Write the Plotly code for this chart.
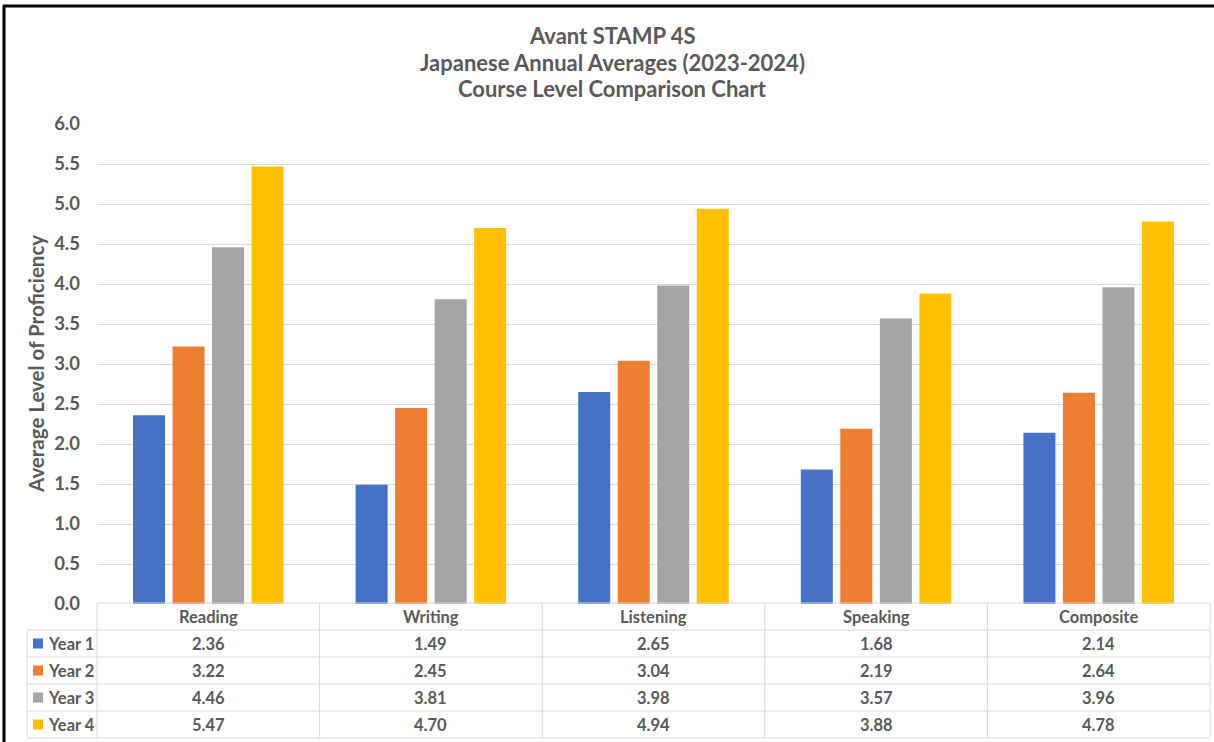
import plotly.graph_objects as go

categories = ["Reading", "Writing", "Listening", "Speaking", "Composite"]
series_names = ["Year 1", "Year 2", "Year 3", "Year 4"]
year1 = [2.36, 1.49, 2.65, 1.68, 2.14]
year2 = [3.22, 2.45, 3.04, 2.19, 2.64]
year3 = [4.46, 3.81, 3.98, 3.57, 3.96]
year4 = [5.47, 4.70, 4.94, 3.88, 4.78]
colors = ["#4472C4", "#ED7D31", "#A5A5A5", "#FFC000"]
title_lines = ["Avant STAMP 4S", "Japanese Annual Averages (2023-2024)", "Course Level Comparison Chart"]
y_title = "Average Level of Proficiency"
tick_vals = [0, 0.5, 1, 1.5, 2, 2.5, 3, 3.5, 4, 4.5, 5, 5.5, 6]
tick_text = ["0.0", "0.5", "1.0", "1.5", "2.0", "2.5", "3.0", "3.5", "4.0", "4.5", "5.0", "5.5", "6.0"]

series = [year1, year2, year3, year4]

W, H = 1214, 742
L, R, T, B = 97, 4, 124, 138
PW = W - L - R
PH = H - T - B
PLOT_BOTTOM = H - B

def px(xp):
    return (xp - L) / PW

def py(yp):
    return (PLOT_BOTTOM - yp) / PH

FONT = "Lato"
TXT = "#595959"
GRID = "#D9D9D9"

fig = go.Figure()
for name, vals, col in zip(series_names, series, colors):
    fig.add_trace(go.Bar(x=categories, y=vals, name=name, marker=dict(color=col, line=dict(width=0))))

shapes = []
annotations = []

# border (top and left)
shapes.append(dict(type="line", xref="paper", yref="paper", x0=px(3), x1=px(1214), y0=py(6), y1=py(6),
                   line=dict(color="#000000", width=3)))
shapes.append(dict(type="line", xref="paper", yref="paper", x0=px(4), x1=px(4), y0=py(5), y1=py(742),
                   line=dict(color="#000000", width=3)))

# table grid
row_tops = [603, 630, 657, 684, 711, 738]
col_lines = [97, 319.6, 542.2, 764.8, 987.4, 1210]
line_style = dict(color=GRID, width=1)
shapes.append(dict(type="line", xref="paper", yref="paper", x0=px(97), x1=px(1210), y0=py(603), y1=py(603), line=line_style))
for yy in row_tops[1:]:
    shapes.append(dict(type="line", xref="paper", yref="paper", x0=px(27), x1=px(1210), y0=py(yy), y1=py(yy), line=line_style))
for xx in col_lines:
    shapes.append(dict(type="line", xref="paper", yref="paper", x0=px(xx), x1=px(xx), y0=py(603), y1=py(738), line=line_style))
shapes.append(dict(type="line", xref="paper", yref="paper", x0=px(27), x1=px(27), y0=py(630), y1=py(738), line=line_style))

cell_font = dict(family=FONT, size=16.5, color=TXT)
# header
for c in categories:
    annotations.append(dict(x=c, xref="x", y=py(616.5), yref="paper", text="<b>%s</b>" % c, showarrow=False,
                            font=cell_font, xanchor="center", yanchor="middle"))
# rows
for r, (name, vals, col) in enumerate(zip(series_names, series, colors)):
    yc = (row_tops[r + 1] + row_tops[r + 2]) / 2
    shapes.append(dict(type="rect", xref="paper", yref="paper", x0=px(33), x1=px(43), y0=py(yc - 5), y1=py(yc + 5),
                       fillcolor=col, line=dict(width=0)))
    annotations.append(dict(x=px(46), xref="paper", y=py(yc), yref="paper", text="<b>%s</b>" % name, showarrow=False,
                            font=cell_font, xanchor="left", yanchor="middle"))
    for c, v in zip(categories, vals):
        annotations.append(dict(x=c, xref="x", y=py(yc), yref="paper", text="<b>%.2f</b>" % v, showarrow=False,
                                font=cell_font, xanchor="center", yanchor="middle"))

# title
for i, t in enumerate(title_lines):
    annotations.append(dict(x=px(612), xref="paper", y=py(35 + 27 * i), yref="paper", text="<b>%s</b>" % t,
                            showarrow=False, font=dict(family=FONT, size=22, color=TXT), xanchor="center", yanchor="middle"))

# y axis title
annotations.append(dict(x=px(36), xref="paper", y=py(364), yref="paper", text="<b>%s</b>" % y_title, textangle=-90,
                        showarrow=False, font=dict(family=FONT, size=20.5, color=TXT), xanchor="center", yanchor="middle"))

fig.update_layout(
    width=W, height=H, autosize=False,
    margin=dict(l=L, r=R, t=T, b=B, pad=0),
    paper_bgcolor="white", plot_bgcolor="white",
    barmode="group", bargap=0.29, bargroupgap=0.19,
    showlegend=False,
    shapes=shapes, annotations=annotations,
    font=dict(family=FONT, color=TXT),
)
fig.update_xaxes(showticklabels=False, showgrid=False, zeroline=False, showline=False, ticks="")
fig.update_yaxes(range=[0, 6], tickvals=tick_vals, ticktext=["<b>%s</b>" % t for t in tick_text],
                 showgrid=True, gridcolor=GRID, gridwidth=1, zeroline=False, showline=False, ticks="",
                 ticklabelstandoff=16, tickfont=dict(family=FONT, size=18.5, color=TXT))

fig.write_html("out.html", config={"displayModeBar": False},
               post_script="document.body.style.margin='0';document.body.style.overflow='hidden';")
